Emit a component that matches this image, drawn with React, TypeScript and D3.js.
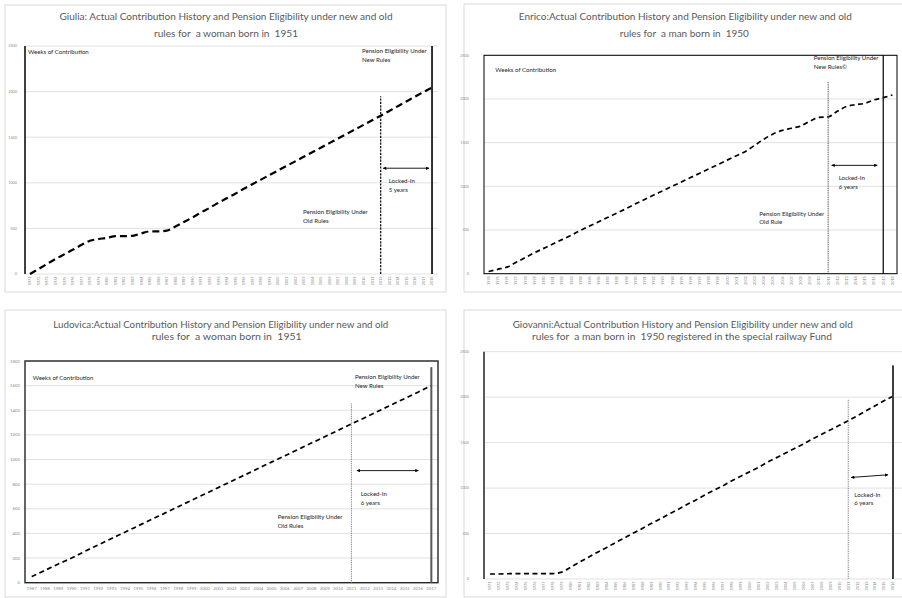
import React from "react";
import * as d3 from "d3";

// ---------------- DATA ----------------
const giuliaYears = [1971,1972,1973,1974,1975,1976,1977,1978,1979,1980,1981,1982,1983,1984,1985,1986,1987,1988,1989,1990,1991,1992,1993,1994,1995,1996,1997,1998,1999,2000,2001,2002,2003,2004,2005,2006,2007,2008,2009,2010,2011,2012,2013,2014,2015,2016,2017,2018];
const giuliaWeeks = [0,55,110,165,215,265,318,365,382,397,415,415,419,445,467,467,475,520,570,620,675,725,780,830,880,935,985,1035,1085,1135,1185,1235,1285,1335,1385,1435,1485,1535,1585,1635,1685,1735,1787,1840,1892,1945,1995,2045];

const enricoYears = [1974,1975,1976,1977,1978,1979,1980,1981,1982,1983,1984,1985,1986,1987,1988,1989,1990,1991,1992,1993,1994,1995,1996,1997,1998,1999,2000,2001,2002,2003,2004,2005,2006,2007,2008,2009,2010,2011,2012,2013,2014,2015,2016,2017,2018];
const enricoWeeks = [25,50,75,130,185,240,290,340,390,440,495,545,595,645,695,745,800,850,900,950,1000,1050,1100,1150,1200,1250,1300,1350,1400,1470,1540,1600,1640,1665,1690,1745,1790,1795,1860,1915,1935,1950,1990,2015,2045];

const ludovicaYears = [1987,1988,1989,1990,1991,1992,1993,1994,1995,1996,1997,1998,1999,2000,2001,2002,2003,2004,2005,2006,2007,2008,2009,2010,2011,2012,2013,2014,2015,2016,2017];
const ludovicaWeeks = [50,100,152,200,255,307,359,410,462,514,565,617,669,720,772,824,875,927,979,1030,1082,1134,1185,1237,1289,1340,1392,1444,1495,1547,1600];

const giovanniYears = [1971,1972,1973,1974,1975,1976,1977,1978,1979,1980,1981,1982,1983,1984,1985,1986,1987,1988,1989,1990,1991,1992,1993,1994,1995,1996,1997,1998,1999,2000,2001,2002,2003,2004,2005,2006,2007,2008,2009,2010,2011,2012,2013,2014,2015,2016];
const giovanniWeeks = [55,55,58,60,60,60,60,60,75,130,185,240,295,345,400,450,505,555,610,660,715,765,820,870,925,975,1025,1080,1130,1180,1230,1285,1335,1385,1435,1485,1540,1590,1640,1690,1740,1795,1850,1905,1960,2010];

const giuliaTitle = ["Giulia: Actual Contribution History and Pension Eligibility under new and old", "rules for  a woman born in  1951"];
const enricoTitle = ["Enrico:Actual Contribution History and Pension Eligibility under new and old", "rules for  a man born in  1950"];
const ludovicaTitle = ["Ludovica:Actual Contribution History and Pension Eligibility under new and old", "rules for  a woman born in  1951"];
const giovanniTitle = ["Giovanni:Actual Contribution History and Pension Eligibility under new and old", "rules for  a man born in  1950 registered in the special railway Fund"];

// eligibility: [old-rule year, old line top, new-rule year, new line top]
const giuliaEligibility = [2012, 1950, 2018, 2500];
const enricoEligibility = [2011, 2200, 2017, 2500];
const ludovicaEligibility = [2011, 1460, 2017, 1750];
const giovanniEligibility = [2011, 1975, 2016, 2350];
// locked-in arrow level (weeks) at start / end
const giuliaArrow = [1160, 1160];
const enricoArrow = [1240, 1240];
const ludovicaArrow = [910, 910];
const giovanniArrow = [1117, 1146];

const yMaxes = [2500, 2500, 1800, 2500];
const ySteps = [500, 500, 200, 500];

// ---------------- LAYOUT ----------------
type Txt = { t: string; x: number; y: number };
type Cfg = {
  id: string;
  title: string[]; titleX: number[]; titleY: number[]; titleW: number[];
  frame: { x: number; y: number; w: number; h: number };
  top: number; bottom: number; left: number; right: number; gridRight: number;
  xRange: [number, number];
  years: number[]; weeks: number[]; yMax: number; yStep: number;
  elig: number[]; arrow: number[]; arrowOff: [number, number];
  rotated: boolean; tickFont: number; yLabelX: number;
  box?: { stroke: string; w: number };
  leftAxis?: { stroke: string; w: number };
  oldStyle: { stroke: string; w: number; dash: string };
  newStyle: { stroke: string; w: number };
  lineW: number; lineDash: string;
  texts: Txt[];
};

const panels: Cfg[] = [
  {
    id: "giulia",
    title: giuliaTitle, titleX: [226, 226], titleY: [20.2, 36.5], titleW: [333, 144],
    frame: { x: 5, y: 5, w: 441, h: 287 },
    top: 46, bottom: 274, left: 25, right: 438, gridRight: 438,
    xRange: [25.7, 436.3],
    years: giuliaYears, weeks: giuliaWeeks, yMax: yMaxes[0], yStep: ySteps[0],
    elig: giuliaEligibility, arrow: giuliaArrow, arrowOff: [2.5, -3],
    rotated: true, tickFont: 3.8, yLabelX: 17,
    leftAxis: { stroke: "#000", w: 1.5 },
    oldStyle: { stroke: "#000", w: 1.2, dash: "2.2,1.2" },
    newStyle: { stroke: "#000", w: 1.6 },
    lineW: 2.2, lineDash: "7,4",
    texts: [
      { t: "Weeks of Contribution", x: 28, y: 54 },
      { t: "Pension Eligibility Under", x: 362, y: 53 },
      { t: "New Rules", x: 362, y: 61.5 },
      { t: "Pension Eligibility Under", x: 303, y: 214 },
      { t: "Old Rules", x: 303, y: 222.5 },
      { t: "Locked-In", x: 388.7, y: 183 },
      { t: "5 years", x: 388.7, y: 191.5 },
    ],
  },
  {
    id: "enrico",
    title: enricoTitle, titleX: [685.3, 684.3], titleY: [20.2, 36.5], titleW: [333, 129],
    frame: { x: 464, y: 4, w: 445, h: 288 },
    top: 55.3, bottom: 273.7, left: 484, right: 897, gridRight: 897,
    xRange: [484, 897],
    years: enricoYears, weeks: enricoWeeks, yMax: yMaxes[1], yStep: ySteps[1],
    elig: enricoEligibility, arrow: enricoArrow, arrowOff: [3.5, -6],
    rotated: true, tickFont: 3.8, yLabelX: 469,
    box: { stroke: "#000", w: 1 },
    oldStyle: { stroke: "#404040", w: 1, dash: "1,0.8" },
    newStyle: { stroke: "#000", w: 1.2 },
    lineW: 1.7, lineDash: "5,3.5",
    texts: [
      { t: "Weeks of Contribution", x: 495.3, y: 72 },
      { t: "Pension Eligibility Under", x: 813.7, y: 59.5 },
      { t: "New Rules©", x: 813.7, y: 69 },
      { t: "Pension Eligibility Under", x: 759.3, y: 215.5 },
      { t: "Old Rule", x: 759.3, y: 223.5 },
      { t: "Locked-In", x: 838.7, y: 180 },
      { t: "6 years", x: 838.7, y: 188.5 },
    ],
  },
  {
    id: "ludovica",
    title: ludovicaTitle, titleX: [220.8, 226.7], titleY: [328, 339.6], titleW: [335, 150],
    frame: { x: 5, y: 310, w: 441, h: 287 },
    top: 361, bottom: 582.7, left: 25, right: 438, gridRight: 438,
    xRange: [25, 438],
    years: ludovicaYears, weeks: ludovicaWeeks, yMax: yMaxes[2], yStep: ySteps[2],
    elig: ludovicaEligibility, arrow: ludovicaArrow, arrowOff: [5.5, -13],
    rotated: false, tickFont: 4.3, yLabelX: 20,
    box: { stroke: "#262626", w: 1.4 },
    oldStyle: { stroke: "#7f7f7f", w: 1, dash: "1,0.8" },
    newStyle: { stroke: "#595959", w: 2 },
    lineW: 1.7, lineDash: "5,3.5",
    texts: [
      { t: "Weeks of Contribution", x: 32.7, y: 380 },
      { t: "Pension Eligibility Under", x: 355, y: 379 },
      { t: "New Rules", x: 355, y: 387.5 },
      { t: "Pension Eligibility Under", x: 277.7, y: 519 },
      { t: "Old Rules", x: 277.7, y: 527.5 },
      { t: "Locked-In", x: 360.7, y: 495.5 },
      { t: "6 years", x: 360.7, y: 504.5 },
    ],
  },
  {
    id: "giovanni",
    title: giovanniTitle, titleX: [682.7, 682], titleY: [328, 339.6], titleW: [340, 300],
    frame: { x: 464, y: 310, w: 445, h: 287 },
    top: 351.7, bottom: 579, left: 484, right: 902, gridRight: 902,
    xRange: [485.5, 897.5],
    years: giovanniYears, weeks: giovanniWeeks, yMax: yMaxes[3], yStep: ySteps[3],
    elig: giovanniEligibility, arrow: giovanniArrow, arrowOff: [3, -5],
    rotated: true, tickFont: 3.8, yLabelX: 469,
    leftAxis: { stroke: "#595959", w: 2 },
    oldStyle: { stroke: "#7f7f7f", w: 1, dash: "1,0.8" },
    newStyle: { stroke: "#404040", w: 2 },
    lineW: 1.7, lineDash: "5,3.5",
    texts: [
      { t: "Locked-In", x: 854.3, y: 496.5 },
      { t: "6 years", x: 854.3, y: 504.5 },
    ],
  },
];

const FONT = "Lato, 'Liberation Sans', sans-serif";

function Panel({ c }: { c: Cfg }) {
  const x = d3.scalePoint<number>().domain(c.years).range(c.xRange).padding(0.5);
  const y = d3.scaleLinear().domain([0, c.yMax]).range([c.bottom, c.top]);
  const ticks = d3.range(0, c.yMax + 1, c.yStep);
  const line = d3
    .line<number>()
    .x((_, i) => x(c.years[i]) as number)
    .y((d) => y(d))
    .curve(d3.curveMonotoneX);
  const [oldYear, oldTop, newYear, newTop] = c.elig;
  const xo = x(oldYear) as number;
  const xn = x(newYear) as number;
  const mId = `arr-${c.id}`;
  return (
    <g>
      <defs>
        <marker id={mId} viewBox="0 0 10 10" refX="9" refY="5" markerWidth="4" markerHeight="3.4" markerUnits="userSpaceOnUse" orient="auto-start-reverse">
          <path d="M0,0 L10,5 L0,10 z" fill="#000" />
        </marker>
      </defs>
      <rect x={c.frame.x} y={c.frame.y} width={c.frame.w} height={c.frame.h} fill="#fff" stroke="#d9d9d9" strokeWidth={1} />
      {c.title.map((t, i) => (
        <text key={i} x={c.titleX[i]} y={c.titleY[i]} textAnchor="middle" fontSize={9.5} fill="#595959" fontFamily={FONT}
          textLength={c.titleW[i]} lengthAdjust="spacingAndGlyphs" style={{ whiteSpace: "pre" }}>{t}</text>
      ))}
      {ticks.map((t) => (
        <line key={t} x1={c.left} x2={c.gridRight} y1={y(t)} y2={y(t)} stroke="#d9d9d9" strokeWidth={0.8} />
      ))}
      {ticks.map((t) => (
        <text key={"yl" + t} x={c.yLabelX} y={y(t) + c.tickFont * 0.35} textAnchor="end" fontSize={c.tickFont} fill="#8c8c8c" fontFamily={FONT}>{t}</text>
      ))}
      {c.years.map((yr) =>
        c.rotated ? (
          <text key={"xl" + yr} transform={`translate(${(x(yr) as number) + c.tickFont * 0.36},${c.bottom + 2.5}) rotate(-90)`}
            textAnchor="end" fontSize={c.tickFont} fill="#8c8c8c" fontFamily={FONT}>{yr}</text>
        ) : (
          <text key={"xl" + yr} x={x(yr) as number} y={c.bottom + 7} textAnchor="middle" fontSize={c.tickFont} fill="#8c8c8c" fontFamily={FONT}>{yr}</text>
        )
      )}
      {c.box && (
        <rect x={c.left} y={c.top} width={c.right - c.left} height={c.bottom - c.top} fill="none" stroke={c.box.stroke} strokeWidth={c.box.w} />
      )}
      {c.leftAxis && (
        <line x1={c.left} x2={c.left} y1={y(0)} y2={y(c.yMax)} stroke={c.leftAxis.stroke} strokeWidth={c.leftAxis.w} />
      )}
      <path d={line(c.weeks) || ""} fill="none" stroke="#000" strokeWidth={c.lineW} strokeDasharray={c.lineDash} />
      <line x1={xo} x2={xo} y1={y(0)} y2={y(oldTop)} stroke={c.oldStyle.stroke} strokeWidth={c.oldStyle.w} strokeDasharray={c.oldStyle.dash} />
      <line x1={xn} x2={xn} y1={y(0)} y2={y(newTop)} stroke={c.newStyle.stroke} strokeWidth={c.newStyle.w} />
      <line x1={xo + c.arrowOff[0]} x2={xn + c.arrowOff[1]} y1={y(c.arrow[0])} y2={y(c.arrow[1])} stroke="#000" strokeWidth={0.9}
        markerStart={`url(#${mId})`} markerEnd={`url(#${mId})`} />
      {c.texts.map((t, i) => (
        <text key={"t" + i} x={t.x} y={t.y} fontSize={6.1} fill="#262626" fontFamily={FONT}>{t.t}</text>
      ))}
    </g>
  );
}

export default function App() {
  return (
    <svg width={902} height={598} style={{ position: "absolute", left: 0, top: 0, background: "#fff" }}>
      <rect x={0} y={0} width={902} height={598} fill="#fff" />
      {panels.map((c) => (
        <Panel key={c.id} c={c} />
      ))}
    </svg>
  );
}
